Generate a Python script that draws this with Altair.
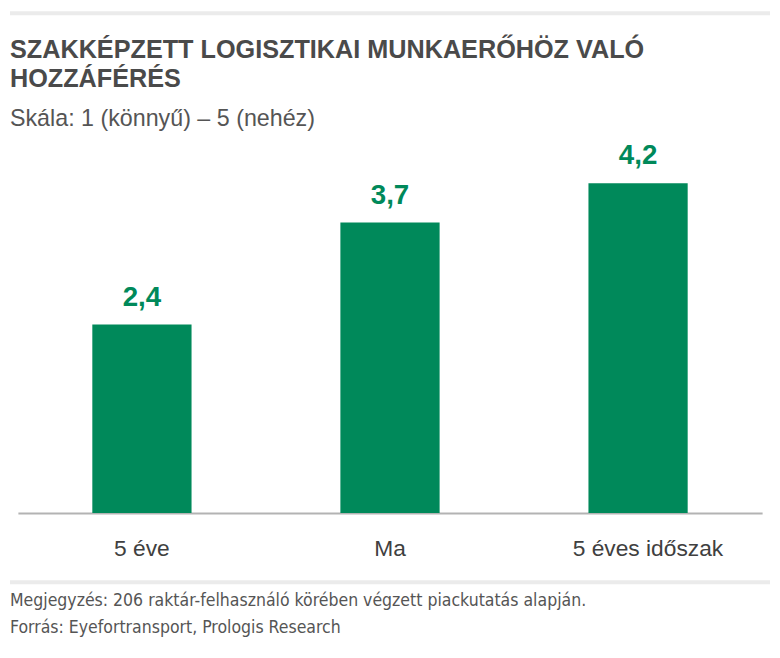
import altair as alt
import pandas as pd

categories = ["5 éve", "Ma", "5 éves időszak"]
values = [2.4, 3.7, 4.2]
value_labels = ["2,4", "3,7", "4,2"]

title_lines = ["SZAKKÉPZETT LOGISZTIKAI MUNKAERŐHÖZ VALÓ", "HOZZÁFÉRÉS"]
subtitle = "Skála: 1 (könnyű) – 5 (nehéz)"
footer_lines = [
    "Megjegyzés: 206 raktár-felhasználó körében végzett piackutatás alapján.",
    "Forrás: Eyefortransport, Prologis Research",
]

GREEN = "#00895A"
df = pd.DataFrame({"cat": categories, "val": values, "lab": value_labels})

W, H = 768, 507
xscale = alt.Scale(domain=categories, range=[8, 760], paddingInner=0.6, paddingOuter=0.3)
yscale = alt.Scale(domain=[0, 6.39], nice=False, zero=True)

base = alt.Chart(df)

bars = base.mark_bar(color=GREEN).encode(
    x=alt.X("cat:N", scale=xscale, sort=categories,
            axis=alt.Axis(title=None, ticks=False, tickSize=0, domainColor="#b3b3b3", domainWidth=2,
                          labelFont="Liberation Sans", labelFontSize=23, labelColor="#404040",
                          labelPadding=43, labelBaseline="alphabetic", labelAngle=0, grid=False,
                          labelOffset={"condition": {"test": "datum.value == '5 éves időszak'", "value": 10},
                                       "value": 0})),
    y=alt.Y("val:Q", scale=yscale, axis=None),
)

labels = base.mark_text(color=GREEN, font="Liberation Sans", fontSize=28, fontWeight="bold",
                        baseline="alphabetic", dy=-19).encode(
    x=alt.X("cat:N", scale=xscale, sort=categories),
    y=alt.Y("val:Q", scale=yscale),
    text="lab:N",
)

def txt(s, x, y, size, weight="normal", color="#4a4a4a", font="Liberation Sans"):
    return alt.Chart(pd.DataFrame({"t": [s]})).mark_text(
        align="left", baseline="alphabetic", fontSize=size, fontWeight=weight,
        color=color, font=font).encode(x=alt.value(x), y=alt.value(y), text="t:N")

def hline(y):
    return alt.Chart(pd.DataFrame({"a": [0]})).mark_rule(color="#ebebeb", strokeWidth=4).encode(
        x=alt.value(0), x2=alt.value(768), y=alt.value(y))

FOOT_FONT = "Liberation Sans Narrow, DejaVu Sans Condensed"
layers = [
    hline(2),
    txt(title_lines[0], 0, 47, 25.5, "bold"),
    txt(title_lines[1], 0, 77, 25.5, "bold"),
    txt(subtitle, 0, 116, 23.5, "normal", "#555555"),
    bars, labels,
    hline(577),
    txt(footer_lines[0], 0, 601, 17.7, "normal", "#555555", FOOT_FONT),
    txt(footer_lines[1], 0, 628, 17.7, "normal", "#555555", FOOT_FONT),
]

chart = alt.layer(*layers).properties(
    width=W, height=H, padding={"left": 0, "top": 0, "right": 0, "bottom": 0}
).configure(background="white").configure_view(stroke=None, strokeWidth=0)

chart.save("out.html", embed_options={"renderer": "svg", "actions": False})
